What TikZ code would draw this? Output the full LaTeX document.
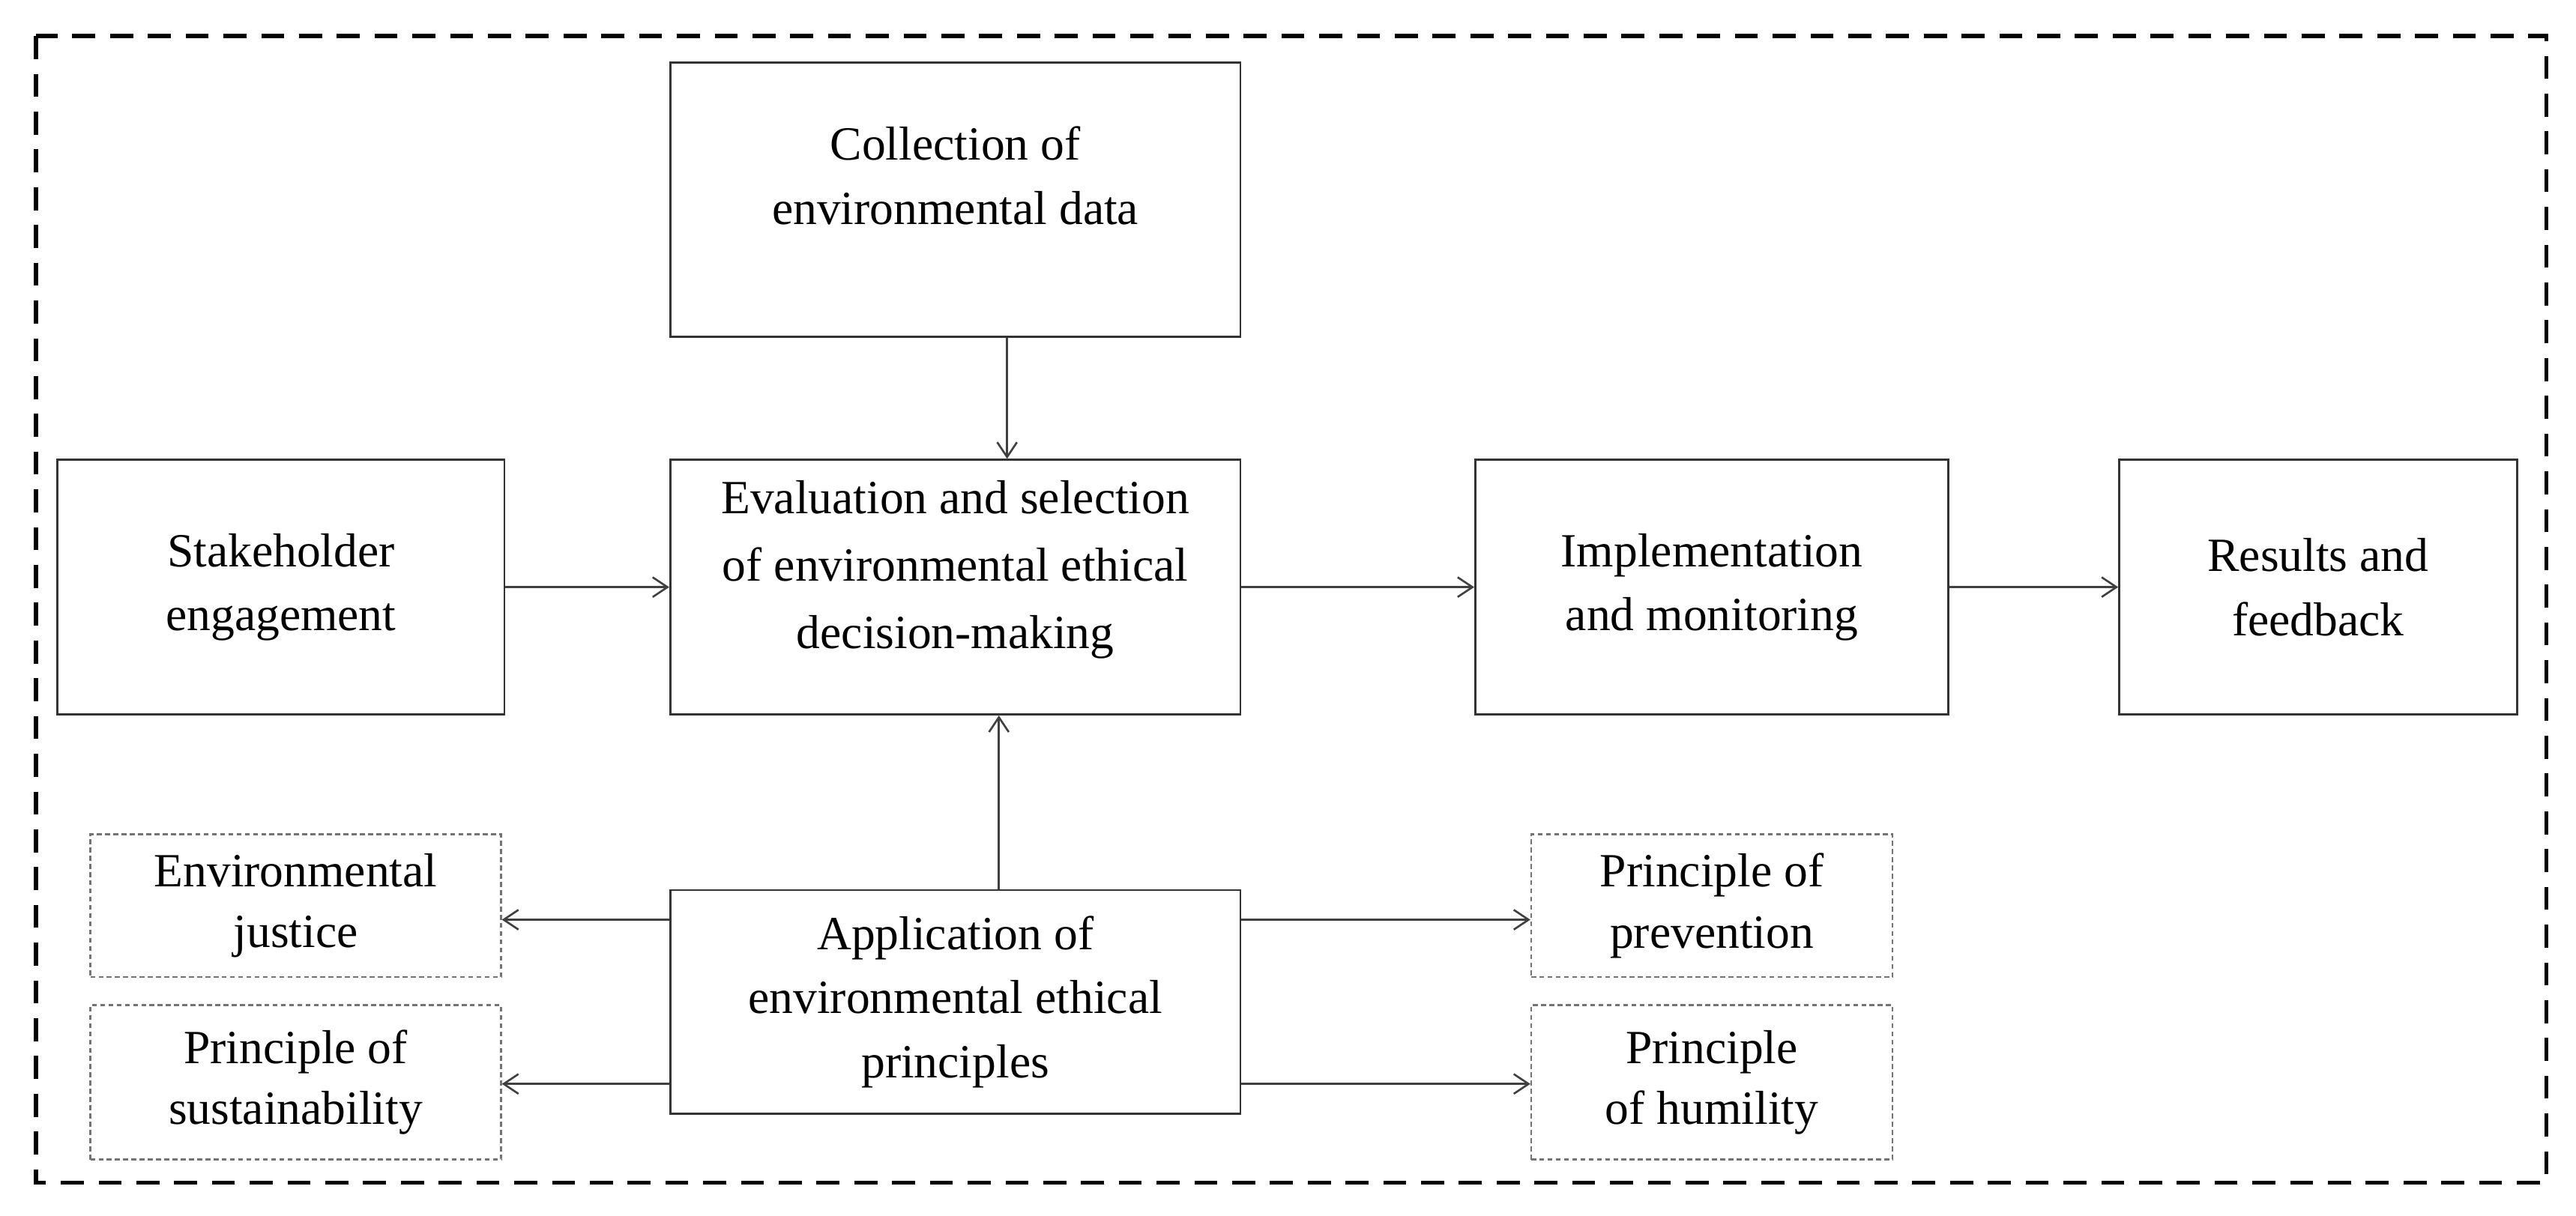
\documentclass[tikz,border=0pt]{standalone}
\usepackage{fontspec}
\setmainfont{Liberation Serif}
\usetikzlibrary{arrows.meta}
\begin{document}
\begin{tikzpicture}[x=1pt,y=-1pt,
 box/.style={draw=black!80,line width=1.3pt,align=center,font=\fontsize{29}{39}\selectfont,inner sep=0},
 pbox/.style={draw=black!55,densely dashed,line width=1pt,align=center,font=\fontsize{29}{37}\selectfont,inner sep=0},
 arr/.style={draw=black!75,line width=1.2pt,-{Straight Barb[length=9pt,width=12pt]}}]
\useasboundingbox (0,0) rectangle (1568,740);
\draw[line width=2.5pt,dash pattern=on 14pt off 9pt] (22,22) rectangle (1550,720);
\node[box,minimum width=347,minimum height=167] (col) at (581.5,121.5) {};
\node[font=\fontsize{29}{39}\selectfont,align=center] at (581.5,107) {Collection of\\environmental data};
\node[box,minimum width=272,minimum height=155] (stk) at (171,357.5) {Stakeholder\\engagement};
\node[box,minimum width=347,minimum height=155] (eva) at (581.5,357.5) {};
\node[font=\fontsize{29}{41}\selectfont,align=center] at (581.5,347) {Evaluation and selection\\of environmental ethical\\decision-making};
\node[box,minimum width=288,minimum height=155] (imp) at (1042,357.5) {Implementation\\and monitoring};
\node[box,minimum width=242,minimum height=155] (res) at (1411,357.5) {Results and\\feedback};
\node[box,minimum width=347,minimum height=136] (app) at (581.5,610) {Application of\\environmental ethical\\principles};
\node[pbox,minimum width=250,minimum height=87] (jus) at (180,551.5) {Environmental\\justice};
\node[pbox,minimum width=250,minimum height=94] (sus) at (180,659) {Principle of\\sustainability};
\node[pbox,minimum width=220,minimum height=87] (pre) at (1042,551.5) {Principle of\\prevention};
\node[pbox,minimum width=220,minimum height=94] (hum) at (1042,659) {Principle\\of humility};
\draw[arr] (col.south -| 613,0) -- (eva.north -| 613,0);
\draw[arr] (app.north -| 608,0) -- (eva.south -| 608,0);
\draw[arr] (stk.east) -- (eva.west);
\draw[arr] (eva.east) -- (imp.west);
\draw[arr] (imp.east) -- (res.west);
\draw[arr] (app.west |- 0,560) -- (jus.east |- 0,560);
\draw[arr] (app.west |- 0,660) -- (sus.east |- 0,660);
\draw[arr] (app.east |- 0,560) -- (pre.west |- 0,560);
\draw[arr] (app.east |- 0,660) -- (hum.west |- 0,660);
\end{tikzpicture}
\end{document}
